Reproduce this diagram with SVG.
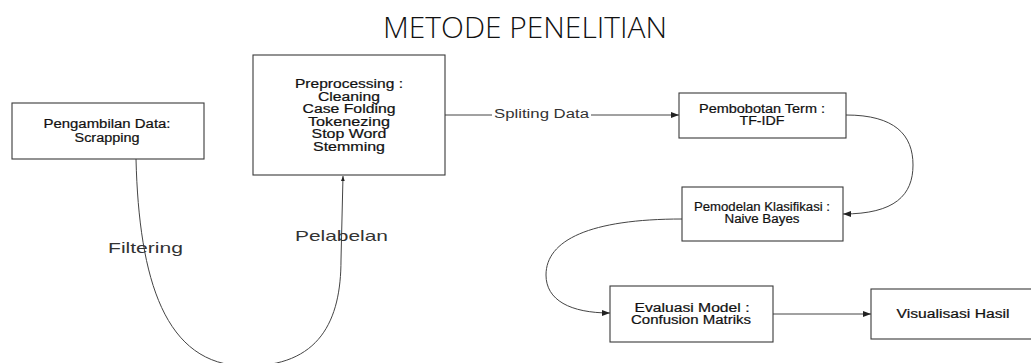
<svg xmlns="http://www.w3.org/2000/svg" width="1031" height="363" viewBox="0 0 1031 363">
<defs>
<marker id="arr" viewBox="0 0 8 6" refX="8" refY="3" markerWidth="8" markerHeight="6" markerUnits="userSpaceOnUse" orient="auto">
<path d="M0,0 L8,3 L0,6 Z" fill="#222"/>
</marker>
<marker id="arrs" viewBox="0 0 8 6" refX="8" refY="3" markerWidth="5" markerHeight="4" markerUnits="userSpaceOnUse" orient="auto">
<path d="M0,0 L8,3 L0,6 Z" fill="#222"/>
</marker>
<style>
.box{fill:#fff;stroke:#3a3a3a;stroke-width:1.1}
.t{font-family:"Liberation Sans",Arial,sans-serif;font-size:12px;fill:#111;stroke:#111;stroke-width:0.2;text-anchor:middle}
.lbl{font-family:"Liberation Sans",Arial,sans-serif;fill:#333;text-anchor:start}
.con{fill:none;stroke:#444;stroke-width:1}
</style>
</defs>
<rect width="1031" height="363" fill="#fff"/>
<text x="383" y="38" font-family="'Open Sans',sans-serif" font-weight="300" font-size="29" fill="#111" textLength="284" lengthAdjust="spacingAndGlyphs">METODE PENELITIAN</text>

<g id="connectors">
<path class="con" d="M136,159 C139,280 165,365 245,366 C320,367 341,320 341,260 L343,176" marker-end="url(#arrs)"/>
<path class="con" d="M445,115 L679,115" marker-end="url(#arr)"/>
<rect x="492" y="106" width="99" height="14" fill="#fff"/>
<text class="lbl" x="494" y="118" font-size="12.5" fill="#555" textLength="95" lengthAdjust="spacingAndGlyphs">Spliting Data</text>
<path class="con" d="M846,115 C895,115 913,135 913,165 C913,195 895,214 843,214" marker-end="url(#arr)"/>
<path class="con" d="M682,219 C590,219 546,240 546,275 C546,300 570,313 610,313" marker-end="url(#arr)"/>
<path class="con" d="M773,314 L871,314" marker-end="url(#arr)"/>
<text class="lbl" x="108" y="253" font-size="14" textLength="75" lengthAdjust="spacingAndGlyphs">Filtering</text>
<text class="lbl" x="295" y="241" font-size="15" textLength="93" lengthAdjust="spacingAndGlyphs">Pelabelan</text>
</g>

<g id="pengambilan">
<rect class="box" x="12" y="103" width="192" height="56"/>
<text class="t" x="107" y="128" textLength="127" lengthAdjust="spacingAndGlyphs">Pengambilan Data:</text>
<text class="t" x="107" y="142" textLength="65" lengthAdjust="spacingAndGlyphs">Scrapping</text>
</g>

<g id="preprocessing">
<rect class="box" x="253" y="55" width="192" height="120"/>
<text class="t" x="349" y="88" font-size="12.5" textLength="108" lengthAdjust="spacingAndGlyphs">Preprocessing :</text>
<text class="t" x="349" y="100.5" font-size="12.5" textLength="62" lengthAdjust="spacingAndGlyphs">Cleaning</text>
<text class="t" x="349" y="113" font-size="12.5" textLength="93" lengthAdjust="spacingAndGlyphs">Case Folding</text>
<text class="t" x="349" y="125.5" font-size="12.5" textLength="82" lengthAdjust="spacingAndGlyphs">Tokenezing</text>
<text class="t" x="349" y="138" font-size="12.5" textLength="75" lengthAdjust="spacingAndGlyphs">Stop Word</text>
<text class="t" x="349" y="150.5" font-size="12.5" textLength="72" lengthAdjust="spacingAndGlyphs">Stemming</text>
</g>

<g id="pembobotan">
<rect class="box" x="679" y="93" width="167" height="45"/>
<text class="t" x="762" y="113" font-size="11" textLength="126" lengthAdjust="spacingAndGlyphs">Pembobotan Term :</text>
<text class="t" x="762" y="125" font-size="11" textLength="45" lengthAdjust="spacingAndGlyphs">TF-IDF</text>
</g>

<g id="pemodelan">
<rect class="box" x="682" y="187" width="161" height="54"/>
<text class="t" x="762" y="211" font-size="11" textLength="136" lengthAdjust="spacingAndGlyphs">Pemodelan Klasifikasi :</text>
<text class="t" x="762" y="223" font-size="11" textLength="75" lengthAdjust="spacingAndGlyphs">Naive Bayes</text>
</g>

<g id="evaluasi">
<rect class="box" x="610" y="286" width="163" height="56"/>
<text class="t" x="692" y="312" font-size="11" textLength="115" lengthAdjust="spacingAndGlyphs">Evaluasi Model :</text>
<text class="t" x="691" y="324" font-size="11" textLength="120" lengthAdjust="spacingAndGlyphs">Confusion Matriks</text>
</g>

<g id="visualisasi">
<rect class="box" x="871" y="289" width="164" height="50"/>
<text class="t" x="953" y="318" font-size="11" textLength="113" lengthAdjust="spacingAndGlyphs">Visualisasi Hasil</text>
</g>
</svg>
